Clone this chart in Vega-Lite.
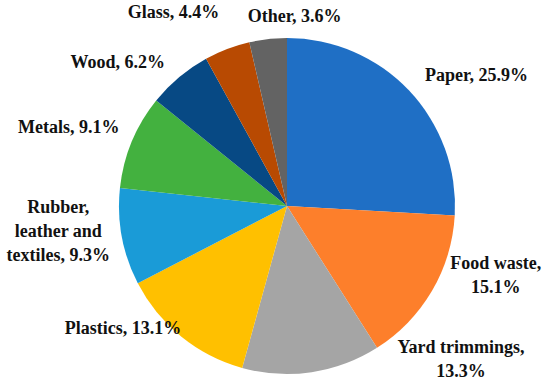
{
  "$schema": "https://vega.github.io/schema/vega-lite/v6.json",
  "width": 526,
  "height": 360,
  "autosize": {"type": "none"},
  "padding": {"left": 24, "top": 26, "right": 0, "bottom": 0},
  "background": "white",
  "view": {"stroke": null},
  "data": {
    "values": [
      {"order": 1, "category": "Paper", "value": 25.9, "label": "Paper, 25.9%"},
      {"order": 2, "category": "Food waste", "value": 15.1, "label": "Food waste,\n15.1%"},
      {"order": 3, "category": "Yard trimmings", "value": 13.3, "label": "Yard trimmings,\n13.3%"},
      {"order": 4, "category": "Plastics", "value": 13.1, "label": "Plastics, 13.1%"},
      {"order": 5, "category": "Rubber, leather and textiles", "value": 9.3, "label": "Rubber,\nleather and\ntextiles, 9.3%"},
      {"order": 6, "category": "Metals", "value": 9.1, "label": "Metals, 9.1%"},
      {"order": 7, "category": "Wood", "value": 6.2, "label": "Wood, 6.2%"},
      {"order": 8, "category": "Glass", "value": 4.4, "label": "Glass, 4.4%"},
      {"order": 9, "category": "Other", "value": 3.6, "label": "Other, 3.6%"}
    ]
  },
  "encoding": {
    "theta": {"field": "value", "type": "quantitative", "stack": true},
    "order": {"field": "order", "type": "quantitative"}
  },
  "layer": [
    {
      "mark": {"type": "arc", "outerRadius": 168},
      "encoding": {
        "color": {
          "field": "category",
          "type": "nominal",
          "legend": null,
          "scale": {
            "domain": ["Paper", "Food waste", "Yard trimmings", "Plastics", "Rubber, leather and textiles", "Metals", "Wood", "Glass", "Other"],
            "range": ["#1f6fc5", "#fd7f2b", "#a5a5a5", "#ffc000", "#1a9bd7", "#43b13f", "#074984", "#b84a02", "#636363"]
          }
        }
      }
    },
    {
      "mark": {
        "type": "text",
        "radius": 190,
        "font": "Liberation Serif, serif",
        "fontWeight": "bold",
        "fontSize": 18,
        "lineHeight": 24,
        "lineBreak": "\n",
        "color": "#111111",
        "baseline": "middle",
        "align": {"expr": "datum.order == 1 ? 'left' : ((datum.order == 2 || datum.order == 3 || datum.order == 5 || datum.order == 9) ? 'center' : 'right')"},
        "dx": {"expr": "datum.order == 2 ? 45 : (datum.order == 3 ? 146 : (datum.order == 4 ? 14 : (datum.order == 9 ? 29 : (datum.order == 6 ? 8 : (datum.order == 5 ? -42 : 0)))))"},
        "dy": {"expr": "datum.order == 2 ? -38 : (datum.order == 3 ? -46 : (datum.order == 4 ? -25 : (datum.order == 5 ? -33 : (datum.order == 8 ? -15 : (datum.order == 6 ? -5 : (datum.order == 7 ? 3 : 0))))))"}
      },
      "encoding": {
        "text": {"field": "label", "type": "nominal"}
      }
    }
  ]
}
